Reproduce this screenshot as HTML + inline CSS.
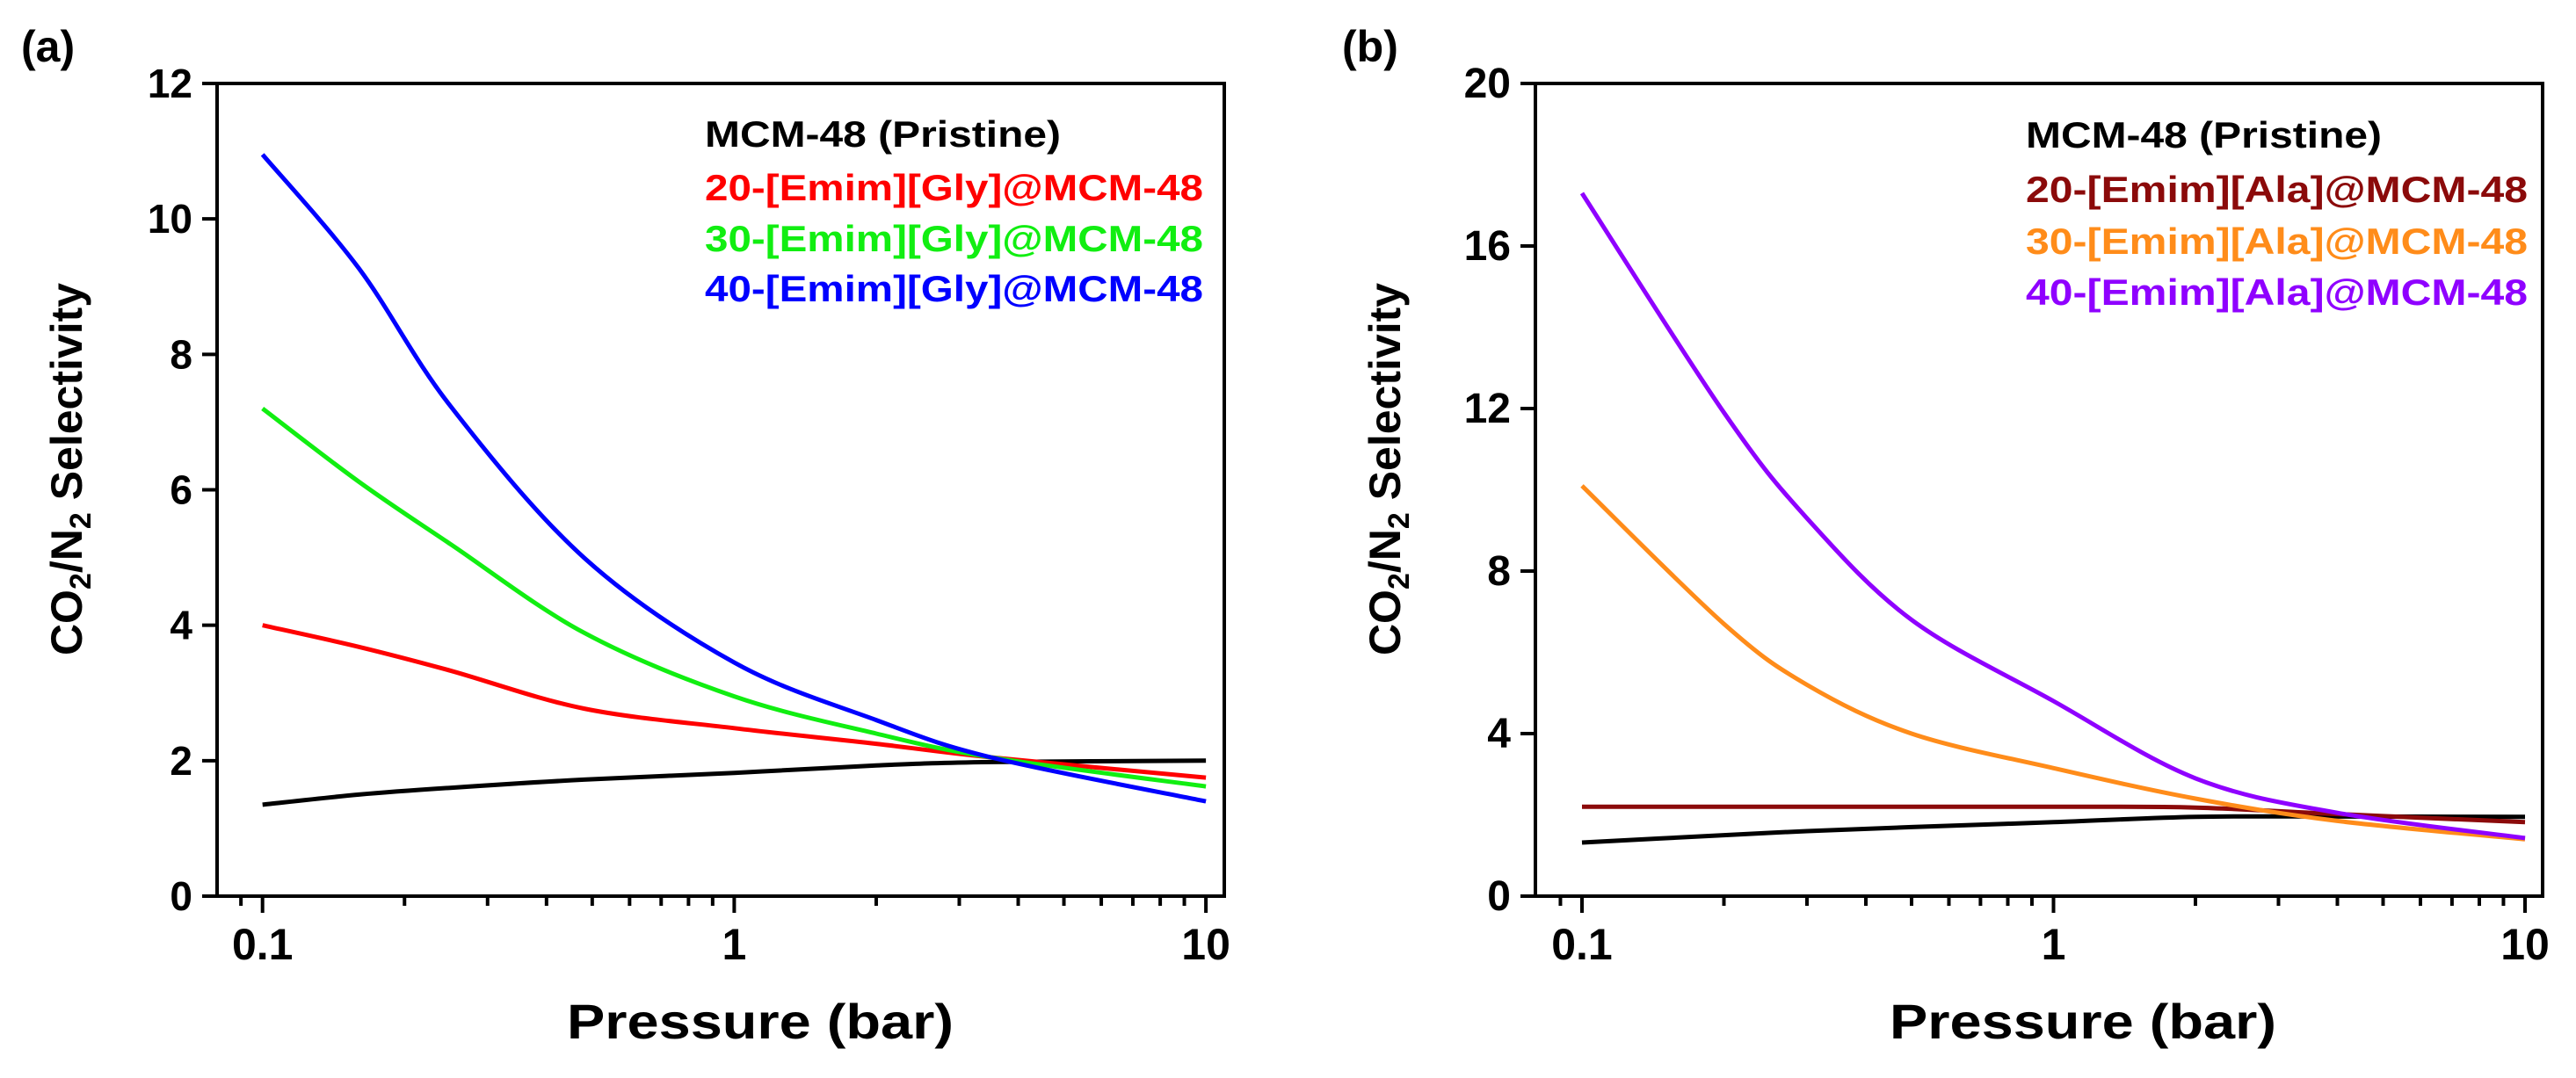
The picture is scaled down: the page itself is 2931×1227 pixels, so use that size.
<!DOCTYPE html>
<html><head><meta charset="utf-8">
<style>
html,body{margin:0;padding:0;background:#fff;}
svg{display:block;font-family:"Liberation Sans",Arial,sans-serif;font-weight:bold;}
</style></head>
<body>
<svg id="fig" width="2931" height="1227" viewBox="0 0 2931 1227" xmlns="http://www.w3.org/2000/svg">
<rect width="2931" height="1227" fill="#fff"/>
<g id="pa"></g>
<g id="pb"></g>
</svg>
<script>
// ---- Panel (a) data ----
const pressureA = [0.1, 0.16, 0.25, 0.48, 1, 2, 3.5, 10];
const pristineA = [1.35, 1.5, 1.6, 1.72, 1.82, 1.93, 1.98, 2.0];
const gly20 = [4.0, 3.68, 3.33, 2.77, 2.48, 2.25, 2.05, 1.75];
const gly30 = [7.2, 6.12, 5.2, 3.89, 2.95, 2.4, 2.05, 1.62];
const gly40 = [10.95, 9.27, 7.24, 5.0, 3.45, 2.6, 2.05, 1.4];
const yTicksA = [0, 2, 4, 6, 8, 10, 12];
const legendA = ["MCM-48 (Pristine)", "20-[Emim][Gly]@MCM-48", "30-[Emim][Gly]@MCM-48", "40-[Emim][Gly]@MCM-48"];
// ---- Panel (b) data ----
const pressureB = [0.1, 0.2, 0.3, 0.5, 1, 2, 4, 10];
const pristineB = [1.32, 1.5, 1.6, 1.7, 1.82, 1.95, 1.96, 1.95];
const ala20 = [2.2, 2.2, 2.2, 2.2, 2.2, 2.18, 2.02, 1.82];
const ala30 = [10.1, 6.7, 5.2, 4.0, 3.15, 2.4, 1.85, 1.4];
const ala40 = [17.3, 11.9, 9.3, 6.8, 4.8, 2.9, 2.05, 1.43];
const yTicksB = [0, 4, 8, 12, 16, 20];
const legendB = ["MCM-48 (Pristine)", "20-[Emim][Ala]@MCM-48", "30-[Emim][Ala]@MCM-48", "40-[Emim][Ala]@MCM-48"];
const xTickLabels = ["0.1", "1", "10"];

const NS = "http://www.w3.org/2000/svg";
function mk(parent, tag, attrs, text){
  const e = document.createElementNS(NS, tag);
  for (const k in attrs) e.setAttribute(k, attrs[k]);
  if (text !== undefined) e.textContent = text;
  parent.appendChild(e);
  return e;
}
function spline(pts){
  let d = "M" + pts[0][0].toFixed(1) + "," + pts[0][1].toFixed(1);
  for (let i = 0; i < pts.length - 1; i++){
    const p0 = pts[Math.max(0, i-1)], p1 = pts[i], p2 = pts[i+1], p3 = pts[Math.min(pts.length-1, i+2)];
    const c1x = p1[0] + (p2[0]-p0[0])/6, c1y = p1[1] + (p2[1]-p0[1])/6;
    const c2x = p2[0] - (p3[0]-p1[0])/6, c2y = p2[1] - (p3[1]-p1[1])/6;
    d += " C" + c1x.toFixed(1) + "," + c1y.toFixed(1) + " " + c2x.toFixed(1) + "," + c2y.toFixed(1) + " " + p2[0].toFixed(1) + "," + p2[1].toFixed(1);
  }
  return d;
}

function panel(g, cfg){
  const X = p => cfg.x01 + cfg.dec * Math.log10(p / 0.1);
  const Y = v => cfg.y0 - (cfg.y0 - cfg.yTop) * v / cfg.yMax;
  let el = mk(g, "rect", {x: cfg.left, y: cfg.yTop, width: cfg.right - cfg.left, height: cfg.y0 - cfg.yTop, fill: "none", stroke: "#000", "stroke-width": 4});
  
  
  cfg.yTicks.forEach(v => {
    const t = mk(g, "line", {x1: cfg.left - 17, x2: cfg.left, y1: Y(v), y2: Y(v), stroke: "#000", "stroke-width": 4});
    
    
    const l = mk(g, "text", {x: cfg.left - 28, y: Y(v) + 16, "text-anchor": "end", "font-size": cfg.yFont}, String(v));
    
    
  });
  const minors = [0.09,0.2,0.3,0.4,0.5,0.6,0.7,0.8,0.9,2,3,4,5,6,7,8,9];
  minors.forEach(p => {
    const t = mk(g, "line", {x1: X(p), x2: X(p), y1: cfg.y0, y2: cfg.y0 + 11, stroke: "#000", "stroke-width": 4});
    
    
  });
  xTickLabels.forEach(s => {
    const p = parseFloat(s);
    const t = mk(g, "line", {x1: X(p), x2: X(p), y1: cfg.y0, y2: cfg.y0 + 19, stroke: "#000", "stroke-width": 4});
    
    
    const l = mk(g, "text", {x: X(p), y: 1092, "text-anchor": "middle", "font-size": 50}, s);
    
    
  });
  cfg.series.forEach((s, i) => {
    const pts = cfg.px.map((p, j) => [X(p), Y(s.vals[j])]);
    const path = mk(g, "path", {d: spline(pts), fill: "none", stroke: s.color, "stroke-width": 5, "stroke-linejoin": "round"});
    
    
  });
  cfg.legend.forEach((txt, i) => {
    const l = mk(g, "text", {x: cfg.legX, y: cfg.legY[i], "font-size": 42, fill: cfg.series[i].color, textLength: i === 0 ? cfg.legW0 : cfg.legW, lengthAdjust: "spacingAndGlyphs"}, txt);
    
    
  });
  const xt = mk(g, "text", {x: cfg.xtX, y: 1182, "font-size": 56, textLength: 440, lengthAdjust: "spacingAndGlyphs"}, "Pressure (bar)");
  
  
  const yt = mk(g, "text", {transform: "translate(" + cfg.ytX + ",534) rotate(-90)", "text-anchor": "middle", "font-size": 50});
  
  
  mk(yt, "tspan", {}, "CO");
  mk(yt, "tspan", {"font-size": 34, dy: 10}, "2");
  mk(yt, "tspan", {dy: -10}, "/N");
  mk(yt, "tspan", {"font-size": 34, dy: 10}, "2");
  mk(yt, "tspan", {dy: -10}, " Selectivity");
  const pl = mk(g, "text", {x: cfg.plX, y: 70, "font-size": 50}, cfg.plLabel);
  
  
}

panel(document.getElementById("pa"), {
  left: 247, right: 1393, yTop: 95, y0: 1020, x01: 298.7, dec: 536.7, yMax: 12,
  yTicks: yTicksA, yFont: 46, px: pressureA,
  series: [
    {name: "line-mcm48-pristine", color: "#000000", vals: pristineA},
    {name: "line-20-emim-gly", color: "#ff0000", vals: gly20},
    {name: "line-30-emim-gly", color: "#11ee11", vals: gly30},
    {name: "line-40-emim-gly", color: "#0000ff", vals: gly40}
  ],
  legend: legendA, legX: 802, legY: [167, 228, 286, 343], legW0: 405, legW: 567,
  xtX: 645, ytX: 93, plX: 24, plLabel: "(a)"
});
panel(document.getElementById("pb"), {
  left: 1747, right: 2893, yTop: 95, y0: 1020, x01: 1800, dec: 536.5, yMax: 20,
  yTicks: yTicksB, yFont: 48, px: pressureB,
  series: [
    {name: "line-mcm48-pristine", color: "#000000", vals: pristineB},
    {name: "line-20-emim-ala", color: "#8b0a0a", vals: ala20},
    {name: "line-30-emim-ala", color: "#ff8c1a", vals: ala30},
    {name: "line-40-emim-ala", color: "#8f00ff", vals: ala40}
  ],
  legend: legendB, legX: 2305, legY: [168, 230, 289, 347], legW0: 405, legW: 571,
  xtX: 2150, ytX: 1593, plX: 1527, plLabel: "(b)"
});
</script>
</body></html>
